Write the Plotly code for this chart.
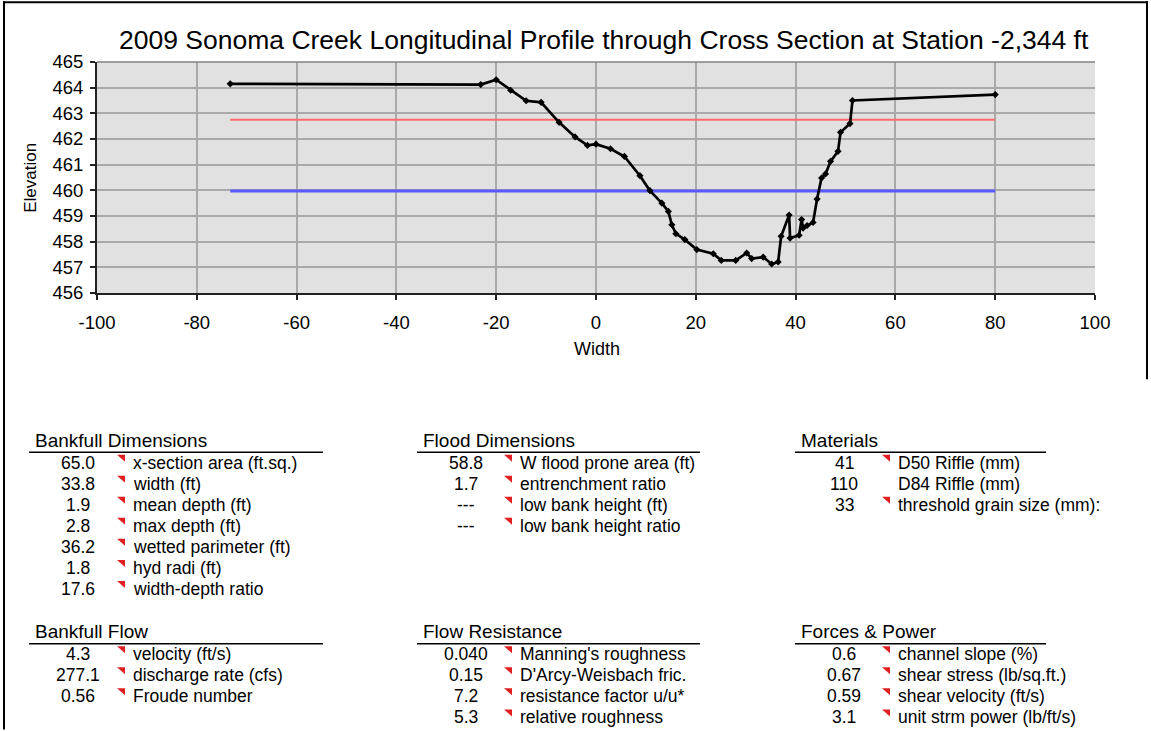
import plotly.graph_objects as go

# ---- data ----
width_ft = [-73.3, -23.1, -20.0, -17.1, -14.0, -11.0, -7.4, -4.2, -1.7, 0.0, 2.9, 5.7, 8.8,
            10.8, 13.2, 14.5, 15.2, 16.0, 17.8, 20.2, 23.5, 25.1, 28.0, 30.2, 31.2, 33.5,
            35.2, 36.5, 37.1, 38.7, 38.9, 40.7, 41.2, 41.5, 42.3, 43.5, 44.3, 45.2, 46.0,
            47.0, 48.5, 49.0, 50.9, 51.4, 80.0]
elevation = [464.15, 464.12, 464.31, 463.90, 463.49, 463.43, 462.65, 462.08, 461.75, 461.80,
             461.62, 461.32, 460.57, 459.99, 459.50, 459.18, 458.66, 458.31, 458.08, 457.69,
             457.53, 457.27, 457.27, 457.56, 457.34, 457.40, 457.13, 457.21, 458.21, 459.04,
             458.14, 458.25, 458.86, 458.53, 458.63, 458.75, 459.66, 460.48, 460.64, 461.13,
             461.52, 462.26, 462.60, 463.50, 463.73]
flood_x = [-73.3, 80.0]
flood_y = [462.75, 462.75]
bankfull_x = [-73.3, 80.0]
bankfull_y = [459.97, 459.97]

x_tick_vals = [-100, -80, -60, -40, -20, 0, 20, 40, 60, 80, 100]
x_tick_text = ["-100", "-80", "-60", "-40", "-20", "0", "20", "40", "60", "80", "100"]
y_tick_vals = [456, 457, 458, 459, 460, 461, 462, 463, 464, 465]

title = "2009 Sonoma Creek Longitudinal Profile through Cross Section at Station -2,344 ft"

# tables
bf_dim_vals = ["65.0", "33.8", "1.9", "2.8", "36.2", "1.8", "17.6"]
bf_dim_labels = ["x-section area (ft.sq.)", "width (ft)", "mean depth (ft)", "max depth (ft)",
                 "wetted parimeter (ft)", "hyd radi (ft)", "width-depth ratio"]
bf_dim_flags = [1, 1, 1, 1, 1, 1, 1]

fl_dim_vals = ["58.8", "1.7", "---", "---"]
fl_dim_labels = ["W flood prone area (ft)", "entrenchment ratio", "low bank height (ft)",
                 "low bank height ratio"]
fl_dim_flags = [1, 1, 1, 1]

mat_vals = ["41", "110", "33"]
mat_labels = ["D50 Riffle (mm)", "D84 Riffle (mm)", "threshold grain size (mm):"]
mat_flags = [1, 0, 1]

bf_flow_vals = ["4.3", "277.1", "0.56"]
bf_flow_labels = ["velocity (ft/s)", "discharge rate (cfs)", "Froude number"]
bf_flow_flags = [1, 1, 1]

res_vals = ["0.040", "0.15", "7.2", "5.3"]
res_labels = ["Manning's roughness", "D'Arcy-Weisbach fric.", "resistance factor u/u*",
              "relative roughness"]
res_flags = [1, 1, 1, 1]

force_vals = ["0.6", "0.67", "0.59", "3.1"]
force_labels = ["channel slope (%)", "shear stress (lb/sq.ft.)", "shear velocity (ft/s)",
                "unit strm power (lb/ft/s)"]
force_flags = [1, 1, 1, 1]

# ---- layout geometry (pixels) ----
W, H = 1151, 731
PX0, PX1, PY0, PY1 = 97, 1095, 62, 293.5


def px(x):
    return (x - PX0) / (PX1 - PX0)


def py(y):
    return (PY1 - y) / (PY1 - PY0)


FONT = "Liberation Sans, Arial, sans-serif"

fig = go.Figure()
fig.add_trace(go.Scatter(x=flood_x, y=flood_y, mode="lines",
                         line=dict(color="#ff6a6a", width=2), showlegend=False, hoverinfo="skip"))
fig.add_trace(go.Scatter(x=bankfull_x, y=bankfull_y, mode="lines",
                         line=dict(color="#5a5aff", width=3), showlegend=False, hoverinfo="skip"))
fig.add_trace(go.Scatter(x=width_ft, y=elevation, mode="lines+markers",
                         line=dict(color="black", width=2.7),
                         marker=dict(symbol="diamond", size=5.5, color="black"),
                         showlegend=False))

shapes = []
annotations = []

# page border
shapes.append(dict(type="line", xref="paper", yref="paper", x0=px(4), x1=px(4), y0=py(1), y1=py(H),
                   line=dict(color="black", width=2)))
shapes.append(dict(type="line", xref="paper", yref="paper", x0=px(3), x1=px(1148), y0=py(2), y1=py(2),
                   line=dict(color="black", width=2)))
shapes.append(dict(type="line", xref="paper", yref="paper", x0=px(1147), x1=px(1147), y0=py(1), y1=py(380),
                   line=dict(color="black", width=2)))

# plot top border
shapes.append(dict(type="line", xref="paper", yref="paper", x0=0, x1=1, y0=1, y1=1,
                   line=dict(color="#808080", width=1.5)))

annotations.append(dict(text=title, xref="paper", yref="paper", x=px(604), y=py(40),
                        xanchor="center", yanchor="middle", showarrow=False,
                        font=dict(family=FONT, size=26.5, color="black")))

# y-axis title
annotations.append(dict(text="Elevation", xref="paper", yref="paper", x=px(31), y=py(178),
                        xanchor="center", yanchor="middle", showarrow=False, textangle=-90,
                        font=dict(family=FONT, size=17, color="black")))
# x-axis title
annotations.append(dict(text="Width", xref="paper", yref="paper", x=px(597), y=py(350),
                        xanchor="center", yanchor="middle", showarrow=False,
                        font=dict(family=FONT, size=18, color="black")))


def add_table(header, vals, labels, flags, hx, line_x0, line_x1, val_cx, lab_x, y_head, y_line, y_row0,
              dy=21.1):
    annotations.append(dict(text=header, xref="paper", yref="paper", x=px(hx), y=py(y_head),
                            xanchor="left", yanchor="middle", showarrow=False,
                            font=dict(family=FONT, size=19, color="black")))
    shapes.append(dict(type="line", xref="paper", yref="paper", x0=px(line_x0), x1=px(line_x1),
                       y0=py(y_line), y1=py(y_line), line=dict(color="black", width=1.5)))
    for i, (v, lab, f) in enumerate(zip(vals, labels, flags)):
        yc = y_row0 + i * dy
        annotations.append(dict(text=v, xref="paper", yref="paper", x=px(val_cx), y=py(yc),
                                xanchor="center", yanchor="middle", showarrow=False,
                                font=dict(family=FONT, size=17.5, color="black")))
        annotations.append(dict(text=lab, xref="paper", yref="paper", x=px(lab_x), y=py(yc),
                                xanchor="left", yanchor="middle", showarrow=False,
                                font=dict(family=FONT, size=17.5, color="black")))
        if f:
            tx0, tx1 = lab_x - 14, lab_x - 6
            ty0, ty1 = yc - 8, yc - 1
            path = "M {a},{b} L {c},{b} L {c},{d} Z".format(a=px(tx0), b=py(ty0), c=px(tx1), d=py(ty1))
            shapes.append(dict(type="path", xref="paper", yref="paper", path=path,
                               fillcolor="#e02020", line=dict(width=0)))


add_table("Bankfull Dimensions", bf_dim_vals, bf_dim_labels, bf_dim_flags,
          33, 29, 323, 78, 131, 441, 453, 463.5)
add_table("Flood Dimensions", fl_dim_vals, fl_dim_labels, fl_dim_flags,
          421, 417, 700, 466, 518, 441, 453, 463.5)
add_table("Materials", mat_vals, mat_labels, mat_flags,
          799, 795, 1046, 844, 896, 441, 453, 463.5)
add_table("Bankfull Flow", bf_flow_vals, bf_flow_labels, bf_flow_flags,
          33, 29, 323, 78, 131, 633, 645, 655.5)
add_table("Flow Resistance", res_vals, res_labels, res_flags,
          421, 417, 700, 466, 518, 633, 645, 655.5)
add_table("Forces & Power", force_vals, force_labels, force_flags,
          799, 795, 1046, 844, 896, 633, 645, 655.5)

fig.update_layout(
    width=W, height=H,
    margin=dict(l=PX0, r=W - PX1, t=PY0, b=H - PY1, pad=0),
    paper_bgcolor="white",
    plot_bgcolor="#e1e1e1",
    font=dict(family=FONT, size=17, color="black"),
    shapes=shapes,
    annotations=annotations,
    showlegend=False,
)
fig.update_xaxes(range=[-100, 100], tickmode="array", tickvals=x_tick_vals, ticktext=x_tick_text,
                 showgrid=True, gridcolor="#a9a9a9", gridwidth=1.5,
                 zeroline=False, showline=True, linecolor="#222222", linewidth=2,
                 ticks="outside", ticklen=5, tickcolor="#222222", tickwidth=1.5,
                 ticklabelstandoff=7,
                 tickfont=dict(family=FONT, size=18.5, color="black"))
fig.update_yaxes(range=[456, 465], tickmode="array", tickvals=y_tick_vals,
                 showgrid=True, gridcolor="#a9a9a9", gridwidth=1.5,
                 zeroline=False, showline=True, linecolor="#222222", linewidth=2,
                 ticks="outside", ticklen=5, tickcolor="#222222", tickwidth=1.5,
                 ticklabelstandoff=3,
                 tickfont=dict(family=FONT, size=18.5, color="black"))

fig.write_html("out.html", config={"displayModeBar": False},
               post_script="document.body.style.margin='0';document.body.style.overflow='hidden';")
